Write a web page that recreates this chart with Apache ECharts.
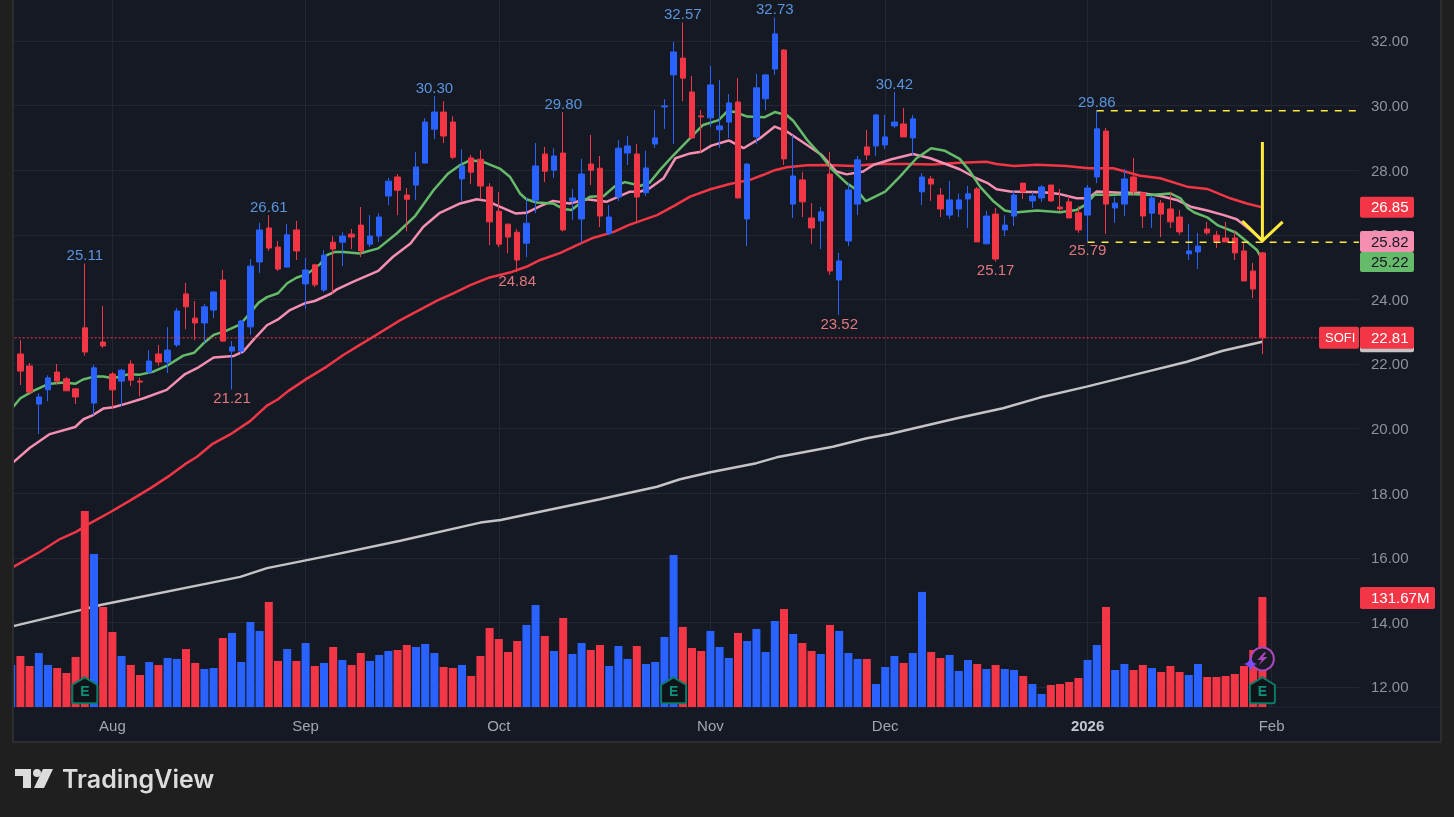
<!DOCTYPE html>
<html>
<head>
<meta charset="utf-8">
<title>SOFI</title>
<script src="https://cdn.jsdelivr.net/npm/echarts@6/dist/echarts.min.js"></script>
<style>
  html, body { margin: 0; padding: 0; background: #1f1f1f; }
  #chart { width: 1454px; height: 817px; }
</style>
</head>
<body>
<div id="chart"></div>
<script>
// daily candles
var opens = [
  21.47,22.31,21.94,20.76,21.2,21.75,21.54,21.23,23.12,20.79,
  22.68,21.69,21.47,22.0,21.47,21.75,22.31,22.06,22.59,24.17,
  23.42,23.27,23.67,24.6,22.4,22.4,23.15,25.16,26.21,25.62,
  25.0,26.15,24.48,25.07,24.29,25.77,25.77,26.02,26.3,25.71,
  25.96,27.2,27.79,27.23,27.54,28.22,29.27,29.8,29.49,27.73,
  28.38,28.34,27.48,26.73,26.33,26.08,25.74,27.07,28.5,28.0,
  28.53,27.05,26.49,28.19,28.06,26.05,27.17,28.53,28.5,27.3,
  28.81,29.96,30.95,31.47,30.42,29.68,29.62,29.25,29.49,30.11,
  26.49,29.03,30.21,31.13,31.72,26.95,27.7,26.52,26.43,27.88,
  24.6,25.81,26.95,28.72,28.75,28.78,29.37,29.43,29.0,27.33,
  27.73,27.23,26.61,26.8,27.11,27.42,25.72,26.64,26.15,26.58,
  27.6,27.05,27.14,27.54,26.86,27.02,26.68,26.61,27.79,29.21,
  26.83,26.95,27.79,27.3,26.67,26.98,26.8,26.55,25.41,25.47,
  26.18,25.99,25.9,25.9,25.5,24.88,25.44
];
var closes = [
  22.09,21.78,21.13,20.98,21.57,21.47,21.17,20.98,22.37,21.88,
  22.56,21.2,21.81,21.5,21.44,22.09,22.06,22.43,23.64,23.77,
  23.27,23.77,24.23,22.71,22.53,23.33,25.03,26.15,25.59,24.94,
  26.0,25.5,24.91,24.45,25.37,25.56,25.96,25.93,25.5,25.96,
  26.55,27.66,27.38,27.1,28.1,29.49,29.8,29.06,28.4,28.13,
  27.94,27.51,26.4,25.71,25.93,25.22,26.36,28.13,27.97,28.44,
  26.15,27.14,27.88,28.0,26.58,26.55,28.68,28.75,27.17,28.07,
  29.0,29.99,31.66,30.85,29.0,29.65,30.64,29.37,30.08,27.14,
  28.19,30.55,30.95,32.22,28.35,27.82,27.02,26.21,26.71,24.88,
  25.19,27.39,28.32,28.47,29.71,29.03,29.49,29.03,29.59,27.79,
  27.57,26.8,27.08,27.08,27.27,25.78,26.58,25.25,26.3,27.23,
  27.33,27.2,27.48,27.05,26.8,26.52,26.15,27.45,29.28,26.95,
  26.98,27.73,27.33,26.58,27.14,26.64,26.4,26.09,25.5,25.65,
  26.06,25.81,25.78,25.44,24.57,24.32,22.81
];
var lows = [
  21.3,21.35,21.09,19.83,20.85,21.38,21.17,20.76,22.26,20.42,
  22.5,20.61,20.7,21.32,21.0,21.69,21.94,21.72,22.53,23.08,
  22.74,22.65,23.42,22.68,21.21,22.31,22.9,24.82,25.5,24.88,
  25.0,25.22,23.7,24.38,24.23,24.18,25.03,25.56,25.31,25.62,
  25.78,26.92,26.61,26.11,27.07,28.22,28.96,28.84,28.34,27.05,
  27.57,27.1,25.68,25.62,25.43,24.84,25.31,26.67,27.63,27.76,
  26.11,26.46,25.74,27.54,26.24,25.99,27.05,28.16,26.42,27.2,
  28.69,29.28,28.81,30.14,29.0,28.53,29.34,28.69,29.0,27.14,
  25.65,28.81,29.86,30.95,28.16,26.52,26.55,25.72,25.56,24.76,
  23.52,25.65,26.61,28.32,28.44,28.66,29.31,29.03,28.47,26.92,
  27.05,26.55,26.49,26.55,26.21,25.78,25.72,25.17,25.96,26.27,
  27.11,26.83,27.02,27.02,26.74,26.52,26.06,25.79,27.6,26.03,
  26.37,26.58,27.23,26.21,26.21,25.93,26.21,26.0,25.22,24.94,
  26.0,25.59,25.78,25.22,24.57,24.04,22.31
];
var highs = [
  22.2,22.74,22.03,21.09,21.65,22.0,21.6,21.23,25.11,21.97,
  23.8,21.75,21.85,22.12,21.57,22.43,22.59,23.14,23.73,24.51,
  23.95,23.86,24.23,24.91,22.71,23.36,25.25,26.37,26.61,25.81,
  26.33,26.43,25.28,25.1,25.53,25.96,26.08,26.18,26.86,26.61,
  26.67,27.76,27.88,27.45,28.56,29.61,30.3,30.14,29.67,28.65,
  28.47,28.62,27.6,27.32,26.33,26.18,27.14,28.84,28.72,28.68,
  29.8,27.42,28.35,29.09,28.44,26.92,28.93,29.06,28.81,28.6,
  29.86,30.2,31.97,32.57,30.92,29.86,31.23,30.79,30.36,30.85,
  28.22,30.98,30.98,32.73,31.75,29.09,27.95,26.98,26.86,28.56,
  25.44,27.6,28.44,29.25,29.74,29.71,30.42,29.93,29.71,27.91,
  27.82,27.45,27.67,27.27,27.51,27.48,26.74,26.83,26.6,27.36,
  27.6,27.33,27.54,27.54,27.42,27.2,26.89,27.54,29.86,29.31,
  27.17,28.04,28.38,27.3,27.2,27.08,27.33,26.77,26.34,26.06,
  26.4,26.12,26.4,26.12,25.78,25.13,25.47
];
// volume in millions
var volumes = [
  50.3,61,49.1,64.6,50.3,46.7,40.7,59.9,234.6,183.1,
  119.7,89.8,61,50.3,38.3,53.9,50.3,58.7,57.5,69.4,
  52.7,45.5,46.7,82.6,88.6,53.9,101.7,91,125.7,55.1,
  69.4,55.1,76.6,49.1,52.7,71.8,56.3,50.3,64.6,55.1,
  62.2,67,68.2,74.2,71.8,75.4,64.6,47.9,46.7,50.3,
  37.1,61,94.6,81.4,65.8,79,98.2,122.1,85,67,
  106.5,63.4,76.6,68.2,74.2,49.1,73,57.5,73,51.5,
  53.9,83.8,181.9,95.8,70.6,67,91,71.8,58.7,88.6,
  79,93.4,65.8,102.9,117.3,87.4,76.6,67,63.4,98.2,
  91,64.6,57.5,57.5,27.5,47.9,61,52.7,64.6,137.7,
  65.8,58.7,62.2,43.1,56.3,51.5,45.5,50.3,45.5,44.3,
  37.1,27.5,15.6,26.3,27.5,29.9,34.7,56.3,74.2,119.7,
  44.3,51.5,44.3,50.3,46.7,41.9,49.1,41.9,38.3,51.5,
  35.9,35.9,37.1,39.5,49.1,68.2,131.67
];

// moving averages as [bar index, price] readings
var maGreen = [[0,20.6],[1,20.94],[2.4,21.17],[4,21.38],[5.7,21.43],[7,21.39],[7.8,21.52],[9,21.61],[10,21.61],[11.1,21.56],[12.7,21.68],[14,21.67],[15.5,21.77],[16.9,21.94],[18.7,22.26],[19.9,22.35],[20.9,22.64],[22,22.9],[23.4,23.03],[24.9,23.23],[25.8,23.52],[26.9,23.9],[27.8,24.07],[29,24.19],[30,24.5],[31,24.67],[32.2,24.79],[33.6,25.1],[34.3,25.37],[35.2,25.47],[36.1,25.47],[37.9,25.42],[39.9,25.58],[41.9,26.04],[43.9,26.58],[45.9,27.38],[47.5,27.9],[48.8,28.16],[49.9,28.31],[51.3,28.26],[53.1,28.05],[54.2,27.8],[55.3,27.28],[56,27.1],[57.1,27],[58.9,26.97],[60,26.8],[60.9,26.77],[61.8,26.97],[62.9,27.18],[64.4,27.2],[65.6,27.5],[66.7,27.63],[68.4,27.52],[69.4,27.62],[70.5,28],[72,28.47],[73.8,28.99],[75.2,29.4],[76.9,29.55],[77.8,29.81],[78.6,29.81],[80,29.66],[81.9,29.64],[83,29.8],[84.3,29.7],[85,29.53],[86.5,28.94],[88,28.47],[89.3,28],[90.8,27.6],[91.9,27.39],[92.9,27.04],[95,27.34],[96.6,27.8],[98.4,28.37],[100,28.68],[101.5,28.6],[103.1,28.35],[104.2,27.97],[105.3,27.49],[106.8,27.03],[108,26.75],[109.1,26.69],[111.5,26.75],[114,26.7],[115.8,26.77],[116.7,26.92],[117.8,27.25],[119.4,27.23],[121.6,27.26],[123.8,27.23],[126,27.28],[127.1,27.13],[127.9,26.82],[128.6,26.69],[130,26.54],[131.1,26.3],[133.1,26.07],[134.3,25.79],[135.4,25.53],[136,25.22]];
var maPink = [[0,18.9],[2,19.4],[4.2,19.83],[6.95,20.05],[7.85,20.29],[8.9,20.42],[10,20.62],[11.1,20.66],[12.6,20.78],[14.4,20.94],[16.9,21.2],[18.9,21.69],[20.2,21.87],[22,22.2],[24.2,22.25],[25.2,22.38],[26.3,22.74],[27.8,23.2],[29,23.38],[30.3,23.67],[31.9,23.88],[33,23.95],[34.7,24.17],[35.4,24.31],[37.2,24.55],[39.9,24.88],[41.5,25.32],[43.4,25.73],[44.8,26.25],[46.6,26.68],[48.8,26.97],[50.6,27.1],[51.7,27.05],[53.1,26.87],[54.8,26.66],[56,26.68],[57.5,26.89],[58.9,27.05],[60.7,26.97],[62.6,27.1],[64.7,27.02],[66,27.18],[67.2,27.33],[68.4,27.34],[69.4,27.44],[70.9,27.75],[72.2,28.37],[73.8,28.52],[75,28.57],[76.1,28.76],[78,28.92],[79.6,28.68],[81.4,28.99],[83,29.35],[84.3,29.2],[86.5,28.78],[88.1,28.47],[89.7,27.96],[90.8,27.87],[92.6,27.96],[93.7,28.16],[95.7,28.34],[98,28.5],[99.9,28.37],[101.5,28.2],[103.1,28.03],[104.9,27.75],[106.2,27.59],[107.1,27.41],[108.6,27.34],[112.2,27.32],[114,27.26],[115.8,27.13],[117.1,27.13],[118,27.34],[120.5,27.3],[122.7,27.3],[124.9,27.2],[126.7,27.08],[128.2,26.87],[130,26.75],[131.8,26.61],[133.2,26.48],[134.7,26.15],[136,25.82]];
var maRed = [[0,15.68],[3.1,16.18],[5.3,16.58],[7.1,16.81],[8.4,17.04],[10.75,17.41],[12.9,17.77],[15.1,18.15],[17.3,18.56],[18.9,18.9],[20.2,19.13],[21.8,19.51],[23.8,19.82],[26,20.24],[27.8,20.71],[29,20.91],[30.1,21.16],[32.1,21.54],[34.3,21.92],[36.1,22.28],[37.9,22.59],[39,22.78],[42.3,23.36],[46.4,23.98],[48,24.18],[49.9,24.44],[52,24.68],[54.2,24.83],[56,25.01],[57.5,25.22],[59.7,25.44],[61.5,25.68],[63.3,25.91],[65.5,26.09],[67.1,26.3],[68.4,26.43],[70.2,26.61],[72,26.89],[73.8,27.18],[76,27.41],[78.1,27.57],[80.3,27.7],[81.7,27.85],[83,28],[84.3,28.09],[86.5,28.15],[88.6,28.16],[91.5,28.13],[94,28.19],[97.3,28.19],[100.2,28.18],[103.1,28.23],[106,28.26],[107.1,28.19],[109,28.13],[111.5,28.17],[114.7,28.13],[117.1,28.06],[119.8,28.06],[122.7,27.83],[124.9,27.75],[127.8,27.49],[130,27.42],[132.5,27.13],[134.3,26.97],[136,26.85]];
var maGrey = [[0,13.87],[7.5,14.38],[9.7,14.54],[24.9,15.41],[27.8,15.68],[35,16.09],[42.3,16.53],[51,17.09],[53.2,17.17],[56.7,17.38],[64,17.81],[70.2,18.2],[72.7,18.43],[76,18.65],[81,18.93],[83.2,19.11],[89.3,19.44],[93,19.7],[95.5,19.83],[102.8,20.32],[107.8,20.63],[111.8,20.96],[116.9,21.3],[122.7,21.71],[127.8,22.07],[131.7,22.41],[136,22.69]];

var barCount = 147; // 137 traded bars plus empty space on the right
var monthTicks = { 11: 'Aug', 32: 'Sep', 53: 'Oct', 76: 'Nov', 95: 'Dec', 117: '2026', 137: 'Feb' };
var priceTicks = [12, 14, 16, 18, 20, 22, 24, 26, 28, 30, 32];
var highLabels = [[8, 25.11], [28, 26.61], [46, 30.30], [60, 29.80], [73, 32.57], [83, 32.73], [96, 30.42], [118, 29.86]];
var lowLabels = [[24, 21.21], [55, 24.84], [90, 23.52], [107, 25.17], [117, 25.79]];
var earnings = [8, 72, 136];
var lastClose = 22.81;

var UP = '#2962ff', DOWN = '#f23645', GRID = '#232732', PANE = '#151924', PAGE = '#1f1f1f';
var FONT = '"Liberation Sans", sans-serif';
var YELLOW = '#ffeb3b';
var PRICE_MIN = 11.381, PRICE_MAX = 33.269;

var categories = [];
var candles = [];
var volumeBars = [];
for (var i = 0; i < barCount; i++) {
  categories.push(monthTicks[i] || String(i));
  if (i < opens.length) {
    candles.push([opens[i], closes[i], lows[i], highs[i]]);
    volumeBars.push({ value: volumes[i], itemStyle: { color: closes[i] >= opens[i] ? UP : DOWN } });
  }
}

function maSeries(name, data, color) {
  return {
    name: name, type: 'line', xAxisIndex: 1, yAxisIndex: 0, data: data, z: 2,
    showSymbol: false, symbol: 'none', silent: true,
    lineStyle: { color: color, width: 2.5 }
  };
}
function levelSeries(name, data, color, dash, width) {
  return {
    name: name, type: 'line', xAxisIndex: 1, yAxisIndex: 0, data: data, z: 5,
    showSymbol: false, symbol: 'none', silent: true,
    lineStyle: { color: color, width: width, type: dash }
  };
}
function pointLabels(list, pos, color, gap) {
  return list.map(function (p) {
    return {
      coord: [p[0], p[1]], value: p[1].toFixed(2), symbolSize: 0,
      label: { show: true, position: pos, distance: gap, formatter: p[1].toFixed(2), color: color, fontSize: 15, fontFamily: FONT }
    };
  });
}

var chart = echarts.init(document.getElementById('chart'));
chart.setOption({
  animation: false,
  backgroundColor: PAGE,
  grid: { left: 6.6, top: 0, width: 1352.4, height: 707, containLabel: false },
  xAxis: [{
    type: 'category', data: categories, boundaryGap: true,
    axisLine: { show: false }, axisTick: { show: false, alignWithLabel: true },
    axisLabel: {
      color: '#a3a6af', fontSize: 15, fontFamily: FONT, margin: 12, hideOverlap: false,
      interval: function (i) { return !!monthTicks[i]; },
      formatter: function (v) { return v === '2026' ? '{b|2026}' : v; },
      rich: { b: { color: '#c3c6ce', fontWeight: 'bold', fontSize: 15, fontFamily: FONT } }
    },
    splitLine: {
      show: true, alignWithLabel: true,
      interval: function (i) { return !!monthTicks[i]; },
      lineStyle: { color: GRID, width: 1 }
    }
  }, {
    type: 'value', min: -0.5, max: barCount - 0.5, show: false, splitLine: { show: false }
  }],
  yAxis: [{
    type: 'value', position: 'right', min: PRICE_MIN, max: PRICE_MAX, scale: true,
    axisLine: { show: false },
    axisTick: { show: false, customValues: priceTicks },
    axisLabel: { show: false, customValues: priceTicks },
    splitLine: { show: true, lineStyle: { color: GRID, width: 1 } }
  }, {
    type: 'value', min: 0, max: 846, show: false, splitLine: { show: false }
  }, {
    // carries the tick text only, a hair lower than the grid lines as in the original
    type: 'value', position: 'right', min: PRICE_MIN + 0.04, max: PRICE_MAX + 0.04, scale: true,
    axisLine: { show: false },
    axisTick: { show: false, customValues: priceTicks },
    axisLabel: {
      color: '#8f929b', fontSize: 15, fontFamily: FONT, margin: 12, customValues: priceTicks,
      formatter: function (v) { return v.toFixed(2); }
    },
    splitLine: { show: false }
  }],
  series: [
    maSeries('EMA 200', maGrey, '#c4c4c4'),
    maSeries('EMA 50', maRed, DOWN),
    maSeries('EMA 21', maPink, '#f48fb1'),
    maSeries('EMA 10', maGreen, '#66bb6a'),
    {
      name: 'Volume', type: 'bar', xAxisIndex: 0, yAxisIndex: 1, data: volumeBars,
      barWidth: 8, z: 3, silent: true
    },
    {
      name: 'SOFI', type: 'candlestick', xAxisIndex: 0, yAxisIndex: 0, data: candles,
      barWidth: 6, z: 4, silent: true,
      itemStyle: { color: UP, color0: DOWN, borderColor: UP, borderColor0: DOWN, borderWidth: 1 },
      markPoint: {
        silent: true, symbol: 'circle', symbolSize: 0,
        data: pointLabels(highLabels, 'top', '#5a94dc', 0).concat(pointLabels(lowLabels, 'bottom', '#e0787c', 2))
      }
    },
    levelSeries('Last', [[-0.5, lastClose], [barCount - 0.5, lastClose]], DOWN, [2, 2], 1),
    levelSeries('Resistance', [[118, 29.84], [barCount - 0.5, 29.84]], YELLOW, [7, 7], 1.5),
    levelSeries('Support', [[117, 25.77], [barCount - 0.5, 25.77]], YELLOW, [7, 7], 1.5),
    {
      name: 'Arrow', type: 'line', xAxisIndex: 1, yAxisIndex: 0, z: 6, silent: true,
      showSymbol: false, symbol: 'none',
      data: [[136, 28.87], [136, 25.81], [133.9, 26.4], [136, 25.81], [138.2, 26.4]],
      lineStyle: { color: YELLOW, width: 3, join: 'round' }
    },
    {
      name: 'Earnings', type: 'scatter', xAxisIndex: 1, yAxisIndex: 1, z: 7, silent: true,
      data: earnings.map(function (i) { return [i, 20]; }),
      symbol: 'path://M13 0 L26 8 L26 25 Q26 27 24 27 L2 27 Q0 27 0 25 L0 8 Z',
      symbolSize: [25, 26],
      itemStyle: { color: '#101418', borderColor: '#0b7a68', borderWidth: 2, opacity: 1 },
      label: { show: true, position: 'inside', formatter: 'E', color: '#0f8f79', fontSize: 14, fontWeight: 'bold', fontFamily: FONT, offset: [0, 2] }
    },
    {
      name: 'Flash', type: 'scatter', xAxisIndex: 1, yAxisIndex: 1, z: 7, silent: true,
      data: [[136, 57.5]], symbol: 'circle', symbolSize: 23,
      itemStyle: { color: '#181a24', borderColor: '#ab47bc', borderWidth: 2, opacity: 1 }
    },
    {
      name: 'Bolt', type: 'scatter', xAxisIndex: 1, yAxisIndex: 1, z: 8, silent: true,
      data: [[136, 57.5]],
      symbol: 'path://M8 0 L2 8 L6 8 L3 14 L11 5 L7 5 L10 0 Z', symbolSize: [10, 13],
      itemStyle: { color: '#ab47bc', opacity: 1 }
    },
    {
      name: 'Spark', type: 'scatter', xAxisIndex: 1, yAxisIndex: 1, z: 9, silent: true,
      data: [[134.7, 51.5]],
      symbol: 'path://M7 0 Q8 6 14 7 Q8 8 7 14 Q6 8 0 7 Q6 6 7 0 Z', symbolSize: 14,
      itemStyle: { color: '#7c4dff', opacity: 1 }
    }
  ]
});

// price tags sit on the right scale, so read their y from the chart
function priceY(v) { return chart.convertToPixel({ yAxisIndex: 0 }, v); }
function volY(v) { return chart.convertToPixel({ yAxisIndex: 1 }, v); }

function tag(x, width, cy, height, fill, text, textColor, textX, z, size) {
  var els = [{
    type: 'rect', z: z, silent: true,
    shape: { x: x, y: cy - height / 2, width: width, height: height, r: 2 },
    style: { fill: fill }
  }];
  if (text) {
    els.push({
      type: 'text', z: z + 1, silent: true, x: textX, y: cy + 1,
      style: { text: text, fill: textColor, font: (size || 15) + 'px ' + FONT, textVerticalAlign: 'middle', textAlign: 'left' }
    });
  }
  return els;
}

var elements = [
  // pane and frame
  { type: 'rect', z: -1, silent: true, shape: { x: 13, y: -2, width: 1428, height: 744 }, style: { fill: PANE, stroke: '#2c2c2e', lineWidth: 2 } },
  { type: 'rect', z: 50, silent: true, shape: { x: 0, y: 0, width: 12, height: 817 }, style: { fill: PAGE } },
  { type: 'rect', z: 50, silent: true, shape: { x: 12, y: 0, width: 2, height: 743 }, style: { fill: '#2c2c2e' } },
  { type: 'line', z: 1, silent: true, shape: { x1: 14, y1: 707, x2: 1440, y2: 707 }, style: { stroke: GRID, lineWidth: 1 } },
  // TradingView mark and name
  { type: 'polygon', z: 50, silent: true, shape: { points: [[15, 769], [31, 769], [31, 788], [23, 788], [23, 776], [15, 776]] }, style: { fill: '#dcdcdc' } },
  { type: 'circle', z: 50, silent: true, shape: { cx: 37, cy: 773, r: 4 }, style: { fill: '#dcdcdc' } },
  { type: 'polygon', z: 50, silent: true, shape: { points: [[43, 769], [53, 769], [44, 788], [34, 788]] }, style: { fill: '#dcdcdc' } },
  { type: 'text', z: 50, silent: true, x: 62, y: 780, style: { text: 'TradingView', fill: '#dcdcdc', font: '600 25px Inter, sans-serif', textVerticalAlign: 'middle' } }
];

elements = elements.concat(
  tag(1360, 54, priceY(26.85), 21, DOWN, '26.85', '#ffffff', 1371, 60),
  tag(1360, 54, priceY(25.82) + 1, 21, '#f48fb1', '25.82', '#131722', 1371, 60),
  tag(1360, 54, priceY(25.22) + 2, 20, '#66bb6a', '25.22', '#131722', 1371, 62),
  tag(1360, 54, priceY(22.69), 21, '#c4c4c4', '', '', 0, 60),
  tag(1360, 54, priceY(lastClose), 22, DOWN, '22.81', '#ffffff', 1371, 62),
  tag(1319, 40, priceY(lastClose), 22, DOWN, 'SOFI', '#ffffff', 1325, 62, 13),
  tag(1360, 75, volY(131.67) + 1, 22, DOWN, '131.67M', '#ffffff', 1371, 62)
);
chart.setOption({ graphic: elements });
</script>
</body>
</html>
